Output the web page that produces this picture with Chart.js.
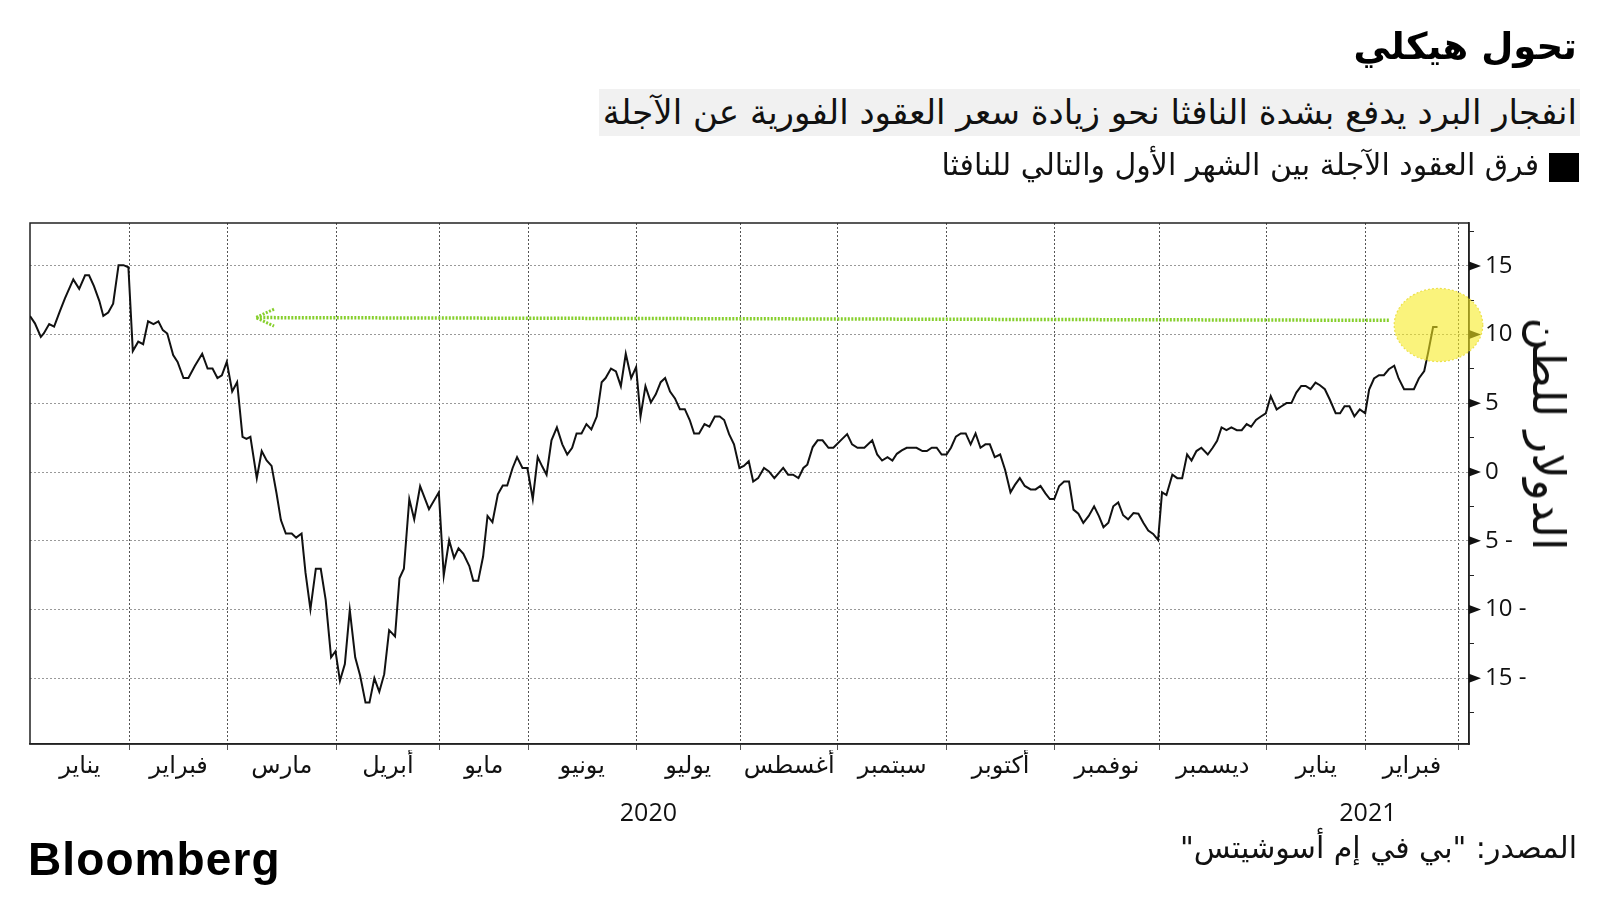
<!DOCTYPE html>
<html lang="ar">
<head>
<meta charset="utf-8">
<script src="https://cdn.jsdelivr.net/npm/chart.js@4.4.1/dist/chart.umd.min.js"></script>
<style>
  html, body { margin:0; padding:0; background:#fff; }
  #wrap { position:relative; width:1600px; height:900px; overflow:hidden; background:#fff; }
  canvas { position:absolute; left:0; top:0; }
  .t { position:absolute; white-space:nowrap; color:#111; font-family:'DejaVu Sans', sans-serif; }
</style>
</head>
<body>
<div id="wrap">
  <canvas id="c" width="1600" height="900"></canvas>
  <div class="t" dir="rtl" id="title" style="right:23px; top:22px; font-size:37px; font-weight:bold; line-height:50px; color:#000;">تحول هيكلي</div>
  <div class="t" dir="rtl" id="sub" style="right:20px; top:89px; height:47px; line-height:47px; font-size:34px; background:#f1f1f1; padding:0 3px 0 4px;">انفجار البرد يدفع بشدة النافثا نحو زيادة سعر العقود الفورية عن الآجلة</div>
  <div style="position:absolute; left:1549px; top:153px; width:30px; height:29px; background:#000;"></div>
  <div class="t" dir="rtl" id="leg" style="right:61px; top:146px; line-height:38px; font-size:30px;">فرق العقود الآجلة بين الشهر الأول والتالي للنافثا</div>
  <div class="t" dir="rtl" id="ytitle" style="left:1548px; top:434px; transform:translate(-50%,-50%) rotate(90deg); font-size:45px; line-height:54px;">الدولار للطن</div>
  <div class="t" dir="rtl" id="src" style="right:23px; top:828px; line-height:40px; font-size:30px;">المصدر: "بي في إم أسوشيتس"</div>
  <div class="t" id="logo" style="left:28px; top:832px; font-family:'Liberation Sans', Arial, sans-serif; font-weight:bold; font-size:46px; letter-spacing:1.1px; line-height:54px; color:#000;">Bloomberg</div>
</div>
<script>
// ---- data (x = trading-day index from start of Jan 2020, y = USD/ton) ----
const dayIndex = [
  0,1,2.2,2.8,3.9,4.9,6.1,7.1,8.8,10,11.2,12,13,14.1,14.9,15.9,16.9,18,19,20,
  20.9,22,23,24,25.1,26.1,27,27.9,29.1,30,31.2,32.2,33.5,35,36.1,37.1,38.1,39,40,
  41.1,42.1,43.2,44,44.8,46.1,47.1,48.1,49.1,50.1,51,52,53.2,54.1,55.2,56,57,58.1,59.1,60.1,61.2,62.1,
  63,64,65,66.1,67.1,68.2,69,70,71,72,73,74.2,75.1,76,77.1,78.1,79.3,81.1,83.1,
  84.1,85.2,86.2,87.1,88.1,89.3,90.1,91.1,92.1,93,94,95.1,96.1,97,98.1,99,100.1,101.1,
  102.2,103.2,104.1,105,106,107.1,108.2,109.2,110.2,111.1,112.1,113.1,114.1,115.2,116.2,117,118.1,119.1,120.1,121.1,122.2,123.2,
  124.1,125.1,126.2,127.2,128.2,129.1,130.1,131.1,132.1,133.1,134.1,135,136,137.1,138.1,139.2,140.2,141.1,142.1,143.1,
  144.2,145.1,146.1,147,148,149.2,150.2,151.3,153.1,154.1,155.1,156.2,157.2,158,159.1,160.1,161.1,162.3,163.3,
  165,166.1,167.1,168.2,169.6,171.2,172.2,173.2,174.3,175.3,176.2,177.2,178.2,180.2,181.4,182.3,183.3,184.3,185.3,
  186.3,187.2,188.2,189.2,190.2,191.2,192.2,193.2,194.2,195.1,196.1,197.2,198.2,199.3,200.2,201.2,202.2,203.4,204.4,205.4,206.4,207.3,
  208.2,209.2,210.2,211.2,212.1,213.1,214.1,215.2,216.3,217.3,218.2,219.2,220.2,221.2,222.2,223.2,224.3,225.3,226.3,227.3,228.3,
  229.3,230.1,231,232.2,233.2,234.2,235.2,236.1,237.1,238.1,239.4,240.4,241.3,242.2,243.2,244.2,245.3,246.3,247.3,248.2,249.2,250.2,
  251.2,252.2,253.4,254.4,255.4,256.4,257.4,258.4,259.3,260.3,261.3,262.2,263.2,264.2,265.4,266.3,267.2,268.2,269.2,270.3,
  271.4,272.2,273.2,274.2,275.2,276.2,277.3,278.2,279.3,281.3,282.3,283.4,284.2,285.2,286.1
];
const spread = [
  11.36,10.82,9.84,10.08,10.77,10.58,11.73,12.64,14.02,13.33,14.31,14.31,13.53,12.44,11.36,11.61,12.25,15.05,15.05,14.9,
  8.81,9.49,9.3,10.97,10.77,10.97,10.33,10.08,8.51,8.02,6.84,6.84,7.72,8.61,7.53,7.53,6.84,7.04,8.02,
  5.86,6.54,2.56,2.41,2.56,-0.44,1.53,0.84,0.45,-1.52,-3.49,-4.47,-4.47,-4.77,-4.47,-7.32,-9.98,-7.03,-7.03,-9.29,-13.47,-13.03,
  -15.19,-13.96,-10.03,-13.47,-14.8,-16.77,-16.77,-15.0,-15.98,-14.7,-11.5,-11.95,-7.72,-7.03,-1.96,-3.44,-1.03,-2.7,-1.47,
  -7.52,-4.96,-6.24,-5.55,-5.95,-6.83,-7.91,-7.91,-6.14,-3.19,-3.64,-1.62,-0.98,-0.98,0.3,1.09,0.3,0.3,
  -1.96,1.09,0.42,-0.19,2.31,3.25,2.02,1.28,1.77,2.81,2.81,3.49,3.1,4.04,6.54,6.84,7.53,7.33,6.25,8.61,6.84,7.63,
  4.04,6.25,5.07,5.66,6.54,6.84,5.86,5.36,4.58,4.58,3.79,2.81,2.81,3.49,3.3,4.04,4.04,3.79,2.76,2.02,
  0.3,0.45,0.79,-0.69,-0.44,0.3,0.05,-0.44,0.3,-0.19,-0.19,-0.44,0.3,0.54,1.82,2.31,2.31,1.77,1.77,
  2.38,2.76,2.02,1.77,1.77,2.31,1.28,0.84,1.09,0.84,1.33,1.58,1.77,1.77,1.53,1.53,1.77,1.77,1.28,
  1.28,1.77,2.58,2.81,2.81,2.02,2.81,1.77,2.02,2.02,1.09,1.28,0.17,-1.47,-0.93,-0.44,-1.01,-1.26,-1.26,-1.01,-1.55,-1.96,
  -1.96,-1.01,-0.69,-0.69,-2.73,-3.03,-3.69,-3.19,-2.49,-3.22,-4.01,-3.69,-2.49,-2.21,-3.14,-3.44,-2.98,-3.03,-3.69,-4.26,-4.5,
  -4.94,-1.47,-1.67,-0.19,-0.44,-0.44,1.28,0.84,1.53,1.77,1.28,1.77,2.27,3.25,3.05,3.25,3.05,3.05,3.49,3.3,3.79,4.04,
  4.28,5.53,4.56,4.79,5.02,5.02,5.78,6.27,6.27,6.03,6.51,6.32,6.03,5.28,4.28,4.28,4.79,4.79,4.06,4.56,
  4.28,6.0,6.81,7.05,7.05,7.48,7.74,6.81,6.03,6.03,6.81,7.35,8.71,10.55,10.55
];
// month boundaries (first trading day of each month, in day-index units)
const monthBounds = [20.3,40.1,62.3,83.2,101.3,123.2,144.4,164.2,186.3,208.3,229.5,251.4,271.5,290.3];
const monthNames = ['يناير','فبراير','مارس','أبريل','مايو','يونيو','يوليو','أغسطس','سبتمبر','أكتوبر','نوفمبر','ديسمبر','يناير','فبراير'];
const yearLabels = ['2020','2021'];
const yearStarts = [0, 251.4];
const xRange = [0, 292.5];
const yRange = [-19.78, 18.12];
const yTickValues = [-17.5,-15,-12.5,-10,-7.5,-5,-2.5,0,2.5,5,7.5,10,12.5,15,17.5];
// annotation: green arrow and yellow highlight
const arrowShaftX = [276.2, 45.9];
const arrowShaftY = [11.04, 11.24];
const arrowHeadX = [49.6, 45.9, 49.6];
const arrowHeadY = [11.85, 11.24, 10.62];
const highlightCenter = [286.3, 10.7];
const highlightRadius = [9.0, 2.66];

// derived tick positions
const monthCenters = monthNames.map((_, i) => {
  const a = i === 0 ? xRange[0] : monthBounds[i - 1];
  const b = monthBounds[i];
  return (a + b) / 2;
});
const yearCenters = yearStarts.map((s, i) => (s + (i + 1 < yearStarts.length ? yearStarts[i + 1] : xRange[1])) / 2);

const AR = "'DejaVu Sans', sans-serif";

const framePlugin = {
  id: 'frame',
  beforeDatasetsDraw(chart) {
    const {ctx, chartArea: a, scales} = chart;
    ctx.save();
    ctx.strokeStyle = '#222';
    ctx.lineWidth = 1.5;
    ctx.setLineDash([]);
    ctx.strokeRect(a.left, a.top, a.right - a.left, a.bottom - a.top);
    const y = scales.y;
    ctx.fillStyle = '#111';
    yTickValues.forEach(v => {
      if (Math.abs(v % 5) < 1e-9) {
        const py = y.getPixelForValue(v);
        ctx.beginPath();
        ctx.moveTo(a.right, py - 4.5);
        ctx.lineTo(a.right + 12, py);
        ctx.lineTo(a.right, py + 4.5);
        ctx.closePath();
        ctx.fill();
      }
    });
    ctx.restore();
  }
};

const highlightPlugin = {
  id: 'highlight',
  afterDatasetsDraw(chart) {
    const {ctx, scales} = chart;
    const x = scales.x, y = scales.y;
    const cx = x.getPixelForValue(highlightCenter[0]);
    const cy = y.getPixelForValue(highlightCenter[1]);
    const rx = Math.abs(x.getPixelForValue(highlightCenter[0] + highlightRadius[0]) - cx);
    const ry = Math.abs(y.getPixelForValue(highlightCenter[1] + highlightRadius[1]) - cy);
    ctx.save();
    ctx.beginPath();
    ctx.ellipse(cx, cy, rx, ry, 0, 0, Math.PI * 2);
    ctx.fillStyle = 'rgba(246,234,30,0.58)';
    ctx.fill();
    ctx.setLineDash([2, 2]);
    ctx.lineWidth = 1.2;
    ctx.strokeStyle = 'rgba(235,222,60,0.9)';
    ctx.stroke();
    ctx.restore();
  }
};

new Chart(document.getElementById('c').getContext('2d'), {
  type: 'line',
  data: {
    datasets: [
      {
        data: dayIndex.map((d, i) => ({x: d, y: spread[i]})),
        borderColor: '#111', borderWidth: 2, pointRadius: 0, tension: 0, order: 0
      },
      {
        data: arrowShaftX.map((d, i) => ({x: d, y: arrowShaftY[i]})),
        borderColor: '#86cf2c', borderWidth: 3.5, borderDash: [2, 1.5], pointRadius: 0, order: 1
      },
      {
        data: arrowHeadX.map((d, i) => ({x: d, y: arrowHeadY[i]})),
        borderColor: '#86cf2c', borderWidth: 3, borderDash: [2, 1.5], pointRadius: 0, order: 1
      }
    ]
  },
  options: {
    responsive: false,
    animation: false,
    devicePixelRatio: 1,
    layout: {padding: {top: 223, left: 30, right: 0, bottom: 0}},
    plugins: {legend: {display: false}, tooltip: {enabled: false}},
    scales: {
      x: {
        type: 'linear', position: 'bottom', min: xRange[0], max: xRange[1], weight: 0,
        afterBuildTicks: s => { s.ticks = monthBounds.map(v => ({value: v})); },
        afterFit: s => { s.height = 6; },
        ticks: {display: false},
        grid: {color: '#555', lineWidth: 1, drawTicks: true, tickLength: 6, tickColor: '#555'},
        border: {display: true, color: '#222', width: 1.5, dash: [2, 2]}
      },
      xm: {
        type: 'linear', position: 'bottom', min: xRange[0], max: xRange[1], weight: 1,
        afterBuildTicks: s => { s.ticks = monthCenters.map(v => ({value: v})); },
        afterFit: s => { s.height = 45; },
        ticks: {
          autoSkip: false, maxRotation: 0, minRotation: 0, padding: 2, color: '#111',
          font: {family: AR, size: 24},
          callback: (v, i) => monthNames[i]
        },
        grid: {display: false, drawTicks: false},
        border: {display: false}
      },
      xy: {
        type: 'linear', position: 'bottom', min: xRange[0], max: xRange[1], weight: 2,
        afterBuildTicks: s => { s.ticks = yearCenters.map(v => ({value: v})); },
        afterFit: s => { s.height = 105; },
        ticks: {
          autoSkip: false, maxRotation: 0, minRotation: 0, padding: 4, color: '#111',
          font: {family: "'Open Sans', sans-serif", size: 25},
          callback: (v, i) => yearLabels[i]
        },
        grid: {display: false, drawTicks: false},
        border: {display: false}
      },
      y: {
        position: 'right', min: yRange[0], max: yRange[1],
        afterBuildTicks: s => { s.ticks = yTickValues.map(v => ({value: v})); },
        afterFit: s => { s.width = 131; },
        ticks: {
          autoSkip: false, padding: 11, color: '#111',
          font: {family: "'Open Sans', sans-serif", size: 24},
          callback: v => (Math.abs(v % 5) < 1e-9) ? (v < 0 ? Math.abs(v) + ' -' : String(v)) : ''
        },
        grid: {
          color: c => (c.tick && Math.abs(c.tick.value % 5) < 1e-9) ? '#999' : 'rgba(0,0,0,0)',
          lineWidth: 1, drawTicks: true, tickLength: 5, tickColor: '#222'
        },
        border: {display: true, color: '#222', width: 1.5, dash: [2, 2]}
      }
    }
  },
  plugins: [framePlugin, highlightPlugin]
});
</script>
</body>
</html>
